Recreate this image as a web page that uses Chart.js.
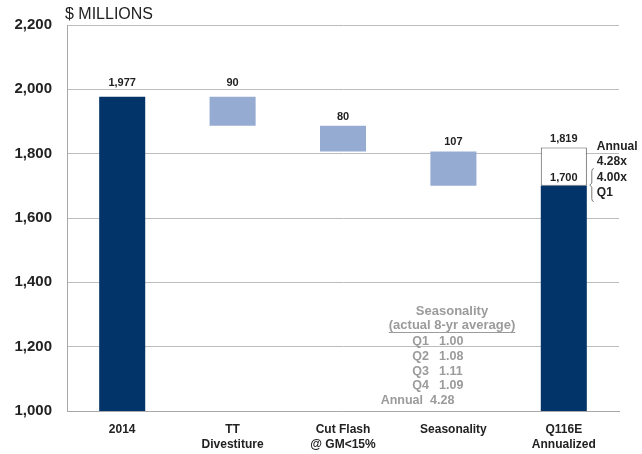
<!DOCTYPE html>
<html>
<head>
<meta charset="utf-8">
<script src="https://cdn.jsdelivr.net/npm/chart.js@4"></script>
<style>
  html, body { margin: 0; padding: 0; background: #fff; }
  #wrap { width: 642px; height: 454px; position: relative; }
</style>
</head>
<body>
<div id="wrap"><canvas id="c" width="642" height="454"></canvas></div>
<script>
// Revenue bridge, $ millions
const categories = [['2014'], ['TT', 'Divestiture'], ['Cut Flash', '@ GM<15%'], ['Seasonality'], ['Q116E', 'Annualized']];
const startTotal = 1977;          // 2014 revenue
const reductions = [90, 80, 107]; // TT divestiture, cut flash, seasonality
const q1Run = 1700;               // Q1 x 4
const annualized = 1819;          // Q1 x 4.28
const yTicks = [1000, 1200, 1400, 1600, 1800, 2000, 2200];

// Seasonality table (actual 8-yr average)
const seasonLabels = ['Q1', 'Q2', 'Q3', 'Q4', 'Annual'];
const seasonFactors = ['1.00', '1.08', '1.11', '1.09', '4.28'];

const FONT = "Arial, 'Liberation Sans', Helvetica, sans-serif";
const DARK = '#033469';
const LIGHT = '#96abd2';

// Build floating ranges for the waterfall
const ranges = [[1000, startTotal]];
let level = startTotal;
reductions.forEach(r => { ranges.push([level - r, level]); level -= r; });
ranges.push([1000, q1Run]);
const colors = [DARK, LIGHT, LIGHT, LIGHT, DARK];
const labelText = [startTotal, ...reductions, q1Run].map(v => v.toLocaleString('en-US'));

const upliftRange = [null, null, null, null, [q1Run, annualized]];

const annotations = {
  id: 'annotations',
  afterDatasetsDraw(chart) {
    const ctx = chart.ctx;
    const ys = chart.scales.y;
    const area = chart.chartArea;
    const grid2000 = ys.getPixelForValue(2000);
    ctx.save();
    ctx.textAlign = 'center';
    ctx.textBaseline = 'middle';
    ctx.fillStyle = '#222';
    ctx.font = 'bold 11px ' + FONT;

    // value labels over bars
    const m0 = chart.getDatasetMeta(0);
    m0.data.forEach((bar, i) => {
      if (i === 4) return;
      const top = Math.min(bar.y, bar.base);
      let y = top - 9;
      if (Math.abs(y - grid2000) < 7) y = grid2000 - 6;
      ctx.fillText(labelText[i], bar.x, y);
    });
    // annualized box labels
    const m1 = chart.getDatasetMeta(1);
    const box = m1.data[4];
    ctx.fillText(annualized.toLocaleString('en-US'), box.x, Math.min(box.y, box.base) - 9);
    const q1Bar = m0.data[4];
    ctx.fillText(labelText[4], q1Bar.x, Math.min(q1Bar.y, q1Bar.base) - 8);

    // right-side notes
    ctx.font = 'bold 12px ' + FONT;
    const nx = box.x + 33;
    const yTop = Math.min(box.y, box.base);
    ctx.textAlign = 'left';
    ctx.fillText('Annual', nx, yTop - 1);
    ctx.fillText('4.28x', nx, yTop + 14);
    ctx.fillText('4.00x', nx, yTop + 30);
    ctx.fillText('Q1', nx, yTop + 45);

    // brace
    const bx = nx - 5;
    const b1 = yTop + 21, b2 = yTop + 54, bm = (b1 + b2) / 2;
    ctx.strokeStyle = '#555';
    ctx.lineWidth = 0.8;
    ctx.beginPath();
    ctx.moveTo(bx + 2, b1);
    ctx.quadraticCurveTo(bx, b1, bx, b1 + 3);
    ctx.lineTo(bx, bm - 2);
    ctx.lineTo(bx - 2, bm);
    ctx.lineTo(bx, bm + 2);
    ctx.lineTo(bx, b2 - 3);
    ctx.quadraticCurveTo(bx, b2, bx + 2, b2);
    ctx.stroke();

    // seasonality table
    const tx = area.left + 385;
    ctx.fillStyle = '#9b9b9b';
    ctx.font = 'bold 13px ' + FONT;
    ctx.textAlign = 'center';
    ctx.fillText('Seasonality', tx, 311);
    const sub = '(actual 8-yr average)';
    ctx.fillText(sub, tx, 325);
    const w = ctx.measureText(sub).width;
    ctx.fillRect(tx - w / 2, 332, w, 1);
    ctx.font = 'bold 12.5px ' + FONT;
    seasonLabels.forEach((lab, i) => {
      const y = 342 + i * 14.6;
      const wide = lab.length > 2;
      ctx.textAlign = 'right';
      ctx.fillText(lab, tx - (wide ? 29 : 23), y);
      ctx.textAlign = 'left';
      ctx.fillText(seasonFactors[i], tx - (wide ? 22 : 13), y);
    });

    // unit caption
    ctx.fillStyle = '#222';
    ctx.font = '16px ' + FONT;
    ctx.textAlign = 'left';
    ctx.fillText('$ MILLIONS', area.left - 2, 15);
    ctx.restore();
  }
};

new Chart(document.getElementById('c'), {
  type: 'bar',
  data: {
    labels: categories,
    datasets: [
      {
        data: ranges,
        backgroundColor: colors,
        borderWidth: 0,
        categoryPercentage: 1,
        barPercentage: 0.417,
        grouped: false,
        order: 0
      },
      {
        data: upliftRange,
        backgroundColor: '#ffffff',
        borderColor: '#555',
        borderWidth: 1,
        borderSkipped: false,
        categoryPercentage: 1,
        barPercentage: 0.417,
        grouped: false,
        order: 1
      }
    ]
  },
  options: {
    responsive: false,
    animation: false,
    devicePixelRatio: 1,
    layout: { padding: { top: 25, right: 23, left: 0, bottom: 0 } },
    plugins: { legend: { display: false }, tooltip: { enabled: false } },
    scales: {
      x: {
        grid: { display: false, drawTicks: false },
        border: { color: '#a8a8a8', width: 1 },
        ticks: { color: '#222', font: { family: FONT, size: 12, weight: 'bold', lineHeight: 1.25 }, padding: 11, maxRotation: 0 },
        afterFit(s) { s.height = 43; }
      },
      y: {
        min: 1000,
        max: 2200,
        afterBuildTicks(s) { s.ticks = yTicks.map(v => ({ value: v })); },
        grid: { color: '#bdbdbd', lineWidth: 1, drawTicks: false },
        border: { color: '#a8a8a8', width: 1 },
        ticks: {
          color: '#222',
          padding: 15,
          font: { family: FONT, size: 15, weight: 'bold' },
          callback: v => v.toLocaleString('en-US')
        },
        afterFit(s) { s.width = 67; }
      }
    }
  },
  plugins: [annotations]
});
</script>
</body>
</html>
